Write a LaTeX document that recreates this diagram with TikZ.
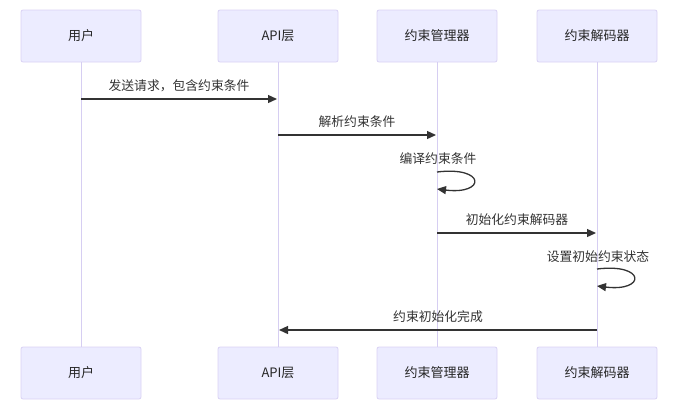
\documentclass[tikz,border=0pt]{standalone}
\usepackage{fontspec}
\setmainfont{Noto Sans CJK SC}
\usetikzlibrary{arrows.meta}
\definecolor{actorfill}{HTML}{ECECFF}
\definecolor{actorborder}{HTML}{D9D2F4}
\definecolor{lifeline}{HTML}{D6CEF2}
\definecolor{msgline}{HTML}{333333}
\tikzset{
  actor/.style={draw=actorborder, fill=actorfill, rounded corners=2pt, line width=0.8pt,
    minimum width=120pt, minimum height=52pt, inner sep=0pt, font=\fontsize{13}{15}\selectfont, text=black!85},
  lifeln/.style={draw=lifeline, line width=1pt},
  msg/.style={draw=msgline, line width=1.3pt, -{Triangle[length=9pt,width=8pt]}},
  msglabel/.style={font=\fontsize{12.8}{15}\selectfont, text=black!80, inner sep=0pt},
}
\begin{document}
\begin{tikzpicture}[x=1pt,y=-1pt]
\useasboundingbox (0,0) rectangle (676,416);
% top actors
\node[actor] (u1) at (81,36) {用户};
\node[actor] (a1) at (278,36) {API层};
\node[actor] (m1) at (437,36) {约束管理器};
\node[actor] (d1) at (597,36) {约束解码器};
% bottom actors
\node[actor] (u2) at (81,373) {用户};
\node[actor] (a2) at (278,373) {API层};
\node[actor] (m2) at (437,373) {约束管理器};
\node[actor] (d2) at (597,373) {约束解码器};
% lifelines
\draw[lifeln] (u1.south) -- (u2.north);
\draw[lifeln] (a1.south) -- (a2.north);
\draw[lifeln] (m1.south) -- (m2.north);
\draw[lifeln] (d1.south) -- (d2.north);
% message points
\coordinate (p1s) at (81,99);
\coordinate (p1e) at (277,99);
\coordinate (p2s) at (278,135);
\coordinate (p2e) at (436,135);
\coordinate (p3s) at (437,172);
\coordinate (p3e) at (437,189);
\coordinate (p4s) at (437,233);
\coordinate (p4e) at (596,233);
\coordinate (p5s) at (597,269);
\coordinate (p5e) at (597,286);
\coordinate (p6s) at (597,330);
\coordinate (p6e) at (279,330);
% messages
\draw[msg] (p1s) -- (p1e);
\node[msglabel] (l1) at (179,86) {发送请求，包含约束条件};
\draw[msg] (p2s) -- (p2e);
\node[msglabel] (l2) at (357,122) {解析约束条件};
\draw[msg] (p3s) .. controls (486,166) and (486,195) .. (p3e);
\node[msglabel] (l3) at (438,159) {编译约束条件};
\draw[msg] (p4s) -- (p4e);
\node[msglabel] (l4) at (517,220) {初始化约束解码器};
\draw[msg] (p5s) .. controls (646,263) and (646,292) .. (p5e);
\node[msglabel] (l5) at (598,257) {设置初始约束状态};
\draw[msg] (p6s) -- (p6e);
\node[msglabel] (l6) at (438,317) {约束初始化完成};
\end{tikzpicture}
\end{document}
